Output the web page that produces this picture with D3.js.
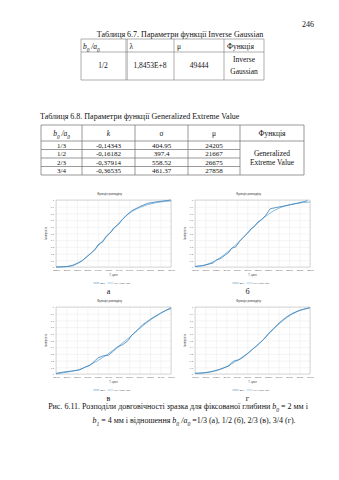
<!DOCTYPE html>
<html>
<head>
<meta charset="utf-8">
<script src="https://cdn.jsdelivr.net/npm/d3@7"></script>
<style>
  body { margin: 0; background: #fff; }
  svg { display: block; }
</style>
</head>
<body>
<svg id="page" width="339" height="480"></svg>
<script>
// ---- Table 6.7: Inverse Gaussian parameters ----
const igRatio = "1/2";
const igLambda = "1,8453E+8";
const igMu = "49444";

// ---- Table 6.8: Generalized Extreme Value parameters ----
const gevRatios = ["1/3", "1/2", "2/3", "3/4"];
const gevK = ["-0,14343", "-0,16182", "-0,37914", "-0,36535"];
const gevSigma = ["404.95", "397.4", "558.52", "461.37"];
const gevMu = ["24205", "21667", "26675", "27858"];

// ---- Distribution panels: cycles to failure vs cumulative probability ----
const panelLetters = ["а", "б", "в", "г"];
const yTicks = [0, 0.1, 0.2, 0.3, 0.4, 0.5, 0.6, 0.7, 0.8, 0.9, 1];

const xTicksA = [23200, 23400, 23600, 23800, 24000, 24200, 24400, 24600, 24800, 25000, 25200, 25400];
const xTicksB = [20800, 21000, 21200, 21400, 21600, 21800, 22000, 22200, 22400, 22600, 22800, 23000];
const xTicksC = [25400, 25600, 25800, 26000, 26200, 26400, 26600, 26800, 27000, 27200, 27400, 27600];
const xTicksD = [26800, 27000, 27200, 27400, 27600, 27800, 28000, 28200, 28400, 28600, 28800, 29000];

// empirical distribution ("Дані")
const empiricalA = [[23200,0],[23400,0.005],[23520,0.02],[23600,0.05],[23700,0.09],[23780,0.15],[23860,0.2],[23950,0.26],[24000,0.33],[24100,0.38],[24160,0.46],[24250,0.52],[24300,0.58],[24400,0.64],[24470,0.71],[24560,0.78],[24650,0.84],[24800,0.9],[24950,0.95],[25100,0.97],[25250,0.985],[25400,1]];
const empiricalB = [[20800,0.01],[20950,0.02],[21050,0.04],[21150,0.06],[21200,0.1],[21300,0.13],[21380,0.18],[21450,0.22],[21500,0.28],[21580,0.3],[21650,0.38],[21720,0.44],[21800,0.5],[21870,0.57],[21930,0.6],[22000,0.67],[22080,0.71],[22150,0.77],[22240,0.87],[22500,0.91],[22750,0.95],[22950,0.99]];
const empiricalC = [[25400,0.01],[25550,0.03],[25700,0.045],[25850,0.06],[25950,0.1],[26050,0.13],[26150,0.2],[26200,0.24],[26300,0.27],[26400,0.28],[26480,0.33],[26580,0.4],[26680,0.44],[26780,0.5],[26850,0.58],[26950,0.65],[27050,0.73],[27120,0.77],[27250,0.84],[27380,0.9],[27500,0.95],[27600,0.99]];
const empiricalD = [[26800,0.01],[26950,0.015],[27100,0.03],[27250,0.06],[27350,0.09],[27450,0.12],[27500,0.17],[27560,0.2],[27640,0.21],[27700,0.24],[27800,0.3],[27900,0.37],[27980,0.42],[28050,0.47],[28130,0.53],[28200,0.6],[28300,0.68],[28380,0.74],[28450,0.79],[28550,0.85],[28650,0.9],[28800,0.95],[29000,0.99]];

// fitted generalized extreme value curve
const fittedA = [[23200,0],[23430,0.01],[23560,0.04],[23760,0.13],[23950,0.27],[24140,0.43],[24330,0.59],[24480,0.72],[24620,0.81],[24810,0.89],[25000,0.94],[25190,0.97],[25400,0.985]];
const fittedB = [[20800,0.005],[20990,0.03],[21180,0.09],[21370,0.19],[21565,0.32],[21760,0.47],[21950,0.62],[22140,0.75],[22330,0.85],[22520,0.91],[22750,0.95],[23000,0.97]];
const fittedC = [[25400,0],[25630,0.03],[25820,0.06],[26010,0.12],[26200,0.2],[26395,0.3],[26585,0.41],[26780,0.53],[26970,0.66],[27160,0.78],[27350,0.88],[27540,0.96],[27600,0.975]];
const fittedD = [[26800,0.01],[26990,0.02],[27180,0.05],[27375,0.1],[27565,0.18],[27755,0.28],[27950,0.4],[28140,0.54],[28330,0.69],[28520,0.82],[28750,0.93],[29000,0.99]];

const panelTitle = "Функція розподілу";
const xAxisTitle = "T, цикл";
const yAxisTitle = "Імовірність";
const legendLabels = ["Дані", "Ген. екстр. знач."];

// ---------------------------------------------------------------
const svg = d3.select("#page");
const SERIF = "'Liberation Serif', 'Times New Roman', serif";
const SANS = "'Liberation Sans', Arial, sans-serif";

// text with italic / subscript fragments: parts = [[text, flags], ...]
function richText(parent, x, y, parts, opts = {}) {
  const t = parent.append("text")
    .attr("x", x).attr("y", y)
    .attr("font-family", opts.family || SERIF)
    .attr("font-size", opts.size || 8)
    .attr("text-anchor", opts.anchor || "start")
    .attr("fill", opts.fill || "#111");
  parts.forEach(([s, f]) => {
    const ts = t.append("tspan").text(s);
    if (f && f.includes("i")) ts.attr("font-style", "italic");
    if (f && f.includes("s")) ts.attr("baseline-shift", "sub").attr("font-size", (opts.size || 8) * 0.7);
  });
  return t;
}
const ratioParts = [["b", "i"], ["0", "is"], [" /", "i"], ["a", "i"], ["0", "is"]];

// page number
richText(svg, 314, 27, [["246"]], { anchor: "end" });

// ---- Table 6.7 ----
richText(svg, 180, 37, [["Таблиця 6.7. Параметри функції Inverse Gaussian"]], { anchor: "middle" });
{
  const g = svg.append("g");
  const cols = [81, 126, 174, 224, 264];
  const rows = [39, 52, 80];
  const st = "#7a7a7a";
  cols.forEach(cx => g.append("line").attr("x1", cx).attr("x2", cx).attr("y1", rows[0]).attr("y2", rows[2]).attr("stroke", st).attr("stroke-width", 0.6));
  g.append("line").attr("x1", 127.3).attr("x2", 127.3).attr("y1", 39).attr("y2", 80).attr("stroke", st).attr("stroke-width", 0.5);
  rows.forEach(ry => g.append("line").attr("x1", cols[0]).attr("x2", cols[4]).attr("y1", ry).attr("y2", ry).attr("stroke", st).attr("stroke-width", 0.6));
  richText(g, 83, 49, ratioParts, { size: 7.5 });
  richText(g, 129.5, 49, [["λ"]], { size: 7.5 });
  richText(g, 177, 49, [["μ"]], { size: 7.5 });
  richText(g, 227, 49, [["Функція"]], { size: 7.5 });
  richText(g, 103, 68, [[igRatio]], { anchor: "middle", size: 7.5 });
  richText(g, 150, 68, [[igLambda]], { anchor: "middle", size: 7.5 });
  richText(g, 199, 68, [[igMu]], { anchor: "middle", size: 7.5 });
  richText(g, 244, 62, [["Inverse"]], { anchor: "middle", size: 7.5 });
  richText(g, 244, 74, [["Gaussian"]], { anchor: "middle", size: 7.5 });
}

// ---- Table 6.8 ----
richText(svg, 40, 119, [["Таблиця 6.8. Параметри функції Generalized Extreme Value"]]);
{
  const g = svg.append("g");
  const cols = [41, 82, 135, 188, 240, 304];
  const rows = [125, 141, 149.5, 158, 166.5, 175];
  const st = "#6f6f6f";
  cols.forEach(cx => g.append("line").attr("x1", cx).attr("x2", cx).attr("y1", rows[0]).attr("y2", rows[5]).attr("stroke", st).attr("stroke-width", 0.7));
  rows.forEach((ry, i) => g.append("line")
    .attr("x1", cols[0]).attr("x2", (i === 0 || i === 1 || i === 5) ? cols[5] : cols[4])
    .attr("y1", ry).attr("y2", ry).attr("stroke", st).attr("stroke-width", 0.7));
  const hy = 136;
  richText(g, 61.5, hy, ratioParts, { anchor: "middle", size: 7.5 });
  richText(g, 108.5, hy, [["k", "i"]], { anchor: "middle", size: 7.5 });
  richText(g, 161.5, hy, [["σ"]], { anchor: "middle", size: 7.5 });
  richText(g, 214, hy, [["μ"]], { anchor: "middle", size: 7.5 });
  richText(g, 272, hy, [["Функція"]], { anchor: "middle", size: 7.5 });
  const colsData = [gevRatios, gevK, gevSigma, gevMu];
  colsData.forEach((arr, ci) => {
    arr.forEach((v, ri) => {
      richText(g, (cols[ci] + cols[ci + 1]) / 2, rows[ri + 1] + 6.7, [[v]], { anchor: "middle", size: 7 });
    });
  });
  richText(g, 272, 156, [["Generalized"]], { anchor: "middle", size: 7.5 });
  richText(g, 272, 164.5, [["Extreme Value"]], { anchor: "middle", size: 7.5 });
}

// ---- distribution panels ----
const panels = [
  { left: 56, top: 200, ticks: xTicksA, emp: empiricalA, fit: fittedA },
  { left: 195, top: 200, ticks: xTicksB, emp: empiricalB, fit: fittedB },
  { left: 56, top: 307, ticks: xTicksC, emp: empiricalC, fit: fittedC },
  { left: 195, top: 307, ticks: xTicksD, emp: empiricalD, fit: fittedD }
];
const PW = 115, PH = 67;
const empColor = "#3a80bb", fitColor = "#86bbdd";

panels.forEach((p, i) => {
  const g = svg.append("g");
  const x = d3.scaleLinear().domain([p.ticks[0], p.ticks[p.ticks.length - 1]]).range([p.left, p.left + PW]);
  const y = d3.scaleLinear().domain([0, 1]).range([p.top + PH, p.top]);

  const gx = g.append("g").attr("transform", `translate(0,${p.top + PH})`)
    .call(d3.axisBottom(x).tickValues(p.ticks).tickSize(-PH).tickPadding(2).tickFormat(d3.format("d")));
  const gy = g.append("g").attr("transform", `translate(${p.left},0)`)
    .call(d3.axisLeft(y).tickValues(yTicks).tickSize(-PW).tickPadding(2).tickFormat(d => d === 0 || d === 1 ? d : d3.format(".1f")(d)));
  [gx, gy].forEach(a => {
    a.select(".domain").remove();
    a.selectAll(".tick line").attr("stroke", "#e4e4e4").attr("stroke-width", 0.4);
    a.selectAll(".tick text").attr("font-family", SANS).attr("font-size", 2.4).attr("fill", "#555");
  });

  g.append("rect").attr("x", p.left).attr("y", p.top).attr("width", PW).attr("height", PH)
    .attr("fill", "none").attr("stroke", "#b5b5b5").attr("stroke-width", 0.5);

  const fitLine = d3.line().x(d => x(d[0])).y(d => y(d[1])).curve(d3.curveMonotoneX);
  const empLine = d3.line().x(d => x(d[0])).y(d => y(d[1]));
  g.append("path").datum(p.fit).attr("d", fitLine)
    .attr("fill", "none").attr("stroke", fitColor).attr("stroke-width", 1);
  g.append("path").datum(p.emp).attr("d", empLine)
    .attr("fill", "none").attr("stroke", empColor).attr("stroke-width", 0.8);

  const cx = p.left + PW / 2;
  g.append("text").attr("x", cx - 4).attr("y", p.top - 5).attr("text-anchor", "middle")
    .attr("font-family", SANS).attr("font-size", 3).attr("fill", "#333").text(panelTitle);
  g.append("text").attr("x", cx).attr("y", p.top + PH + 9).attr("text-anchor", "middle")
    .attr("font-family", SANS).attr("font-size", 2.6).attr("fill", "#444").text(xAxisTitle);
  g.append("text").attr("transform", `translate(${p.left - 9},${p.top + PH / 2}) rotate(-90)`)
    .attr("text-anchor", "middle").attr("font-family", SANS).attr("font-size", 2.6).attr("fill", "#444").text(yAxisTitle);

  // legend
  const ly = p.top + PH + 16;
  const lx = cx - 20;
  g.append("line").attr("x1", lx).attr("x2", lx + 6).attr("y1", ly).attr("y2", ly).attr("stroke", empColor).attr("stroke-width", 0.6);
  g.append("text").attr("x", lx + 7).attr("y", ly + 0.8).attr("font-family", SANS).attr("font-size", 2.2).attr("fill", "#444").text(legendLabels[0]);
  g.append("line").attr("x1", lx + 14).attr("x2", lx + 20).attr("y1", ly).attr("y2", ly).attr("stroke", fitColor).attr("stroke-width", 0.7);
  g.append("text").attr("x", lx + 21).attr("y", ly + 0.8).attr("font-family", SANS).attr("font-size", 2.2).attr("fill", "#444").text(legendLabels[1]);

  richText(svg, cx - 5, p.top + PH + 27, [[panelLetters[i]]], { anchor: "middle", size: 8 });
});

// ---- figure caption ----
richText(svg, 178, 409, [["Рис. 6.11. Розподіли довговічності зразка для фіксованої глибини "], ["b", "i"], ["0", "is"], [" = 2 мм і"]], { anchor: "middle" });
richText(svg, 194, 423, [["b", "i"], ["1", "is"], [" = 4 мм і відношення "], ["b", "i"], ["0", "is"], [" /", "i"], ["a", "i"], ["0", "is"], [" =1/3 (а), 1/2 (б), 2/3 (в), 3/4 (г)."]], { anchor: "middle" });
</script>
</body>
</html>
